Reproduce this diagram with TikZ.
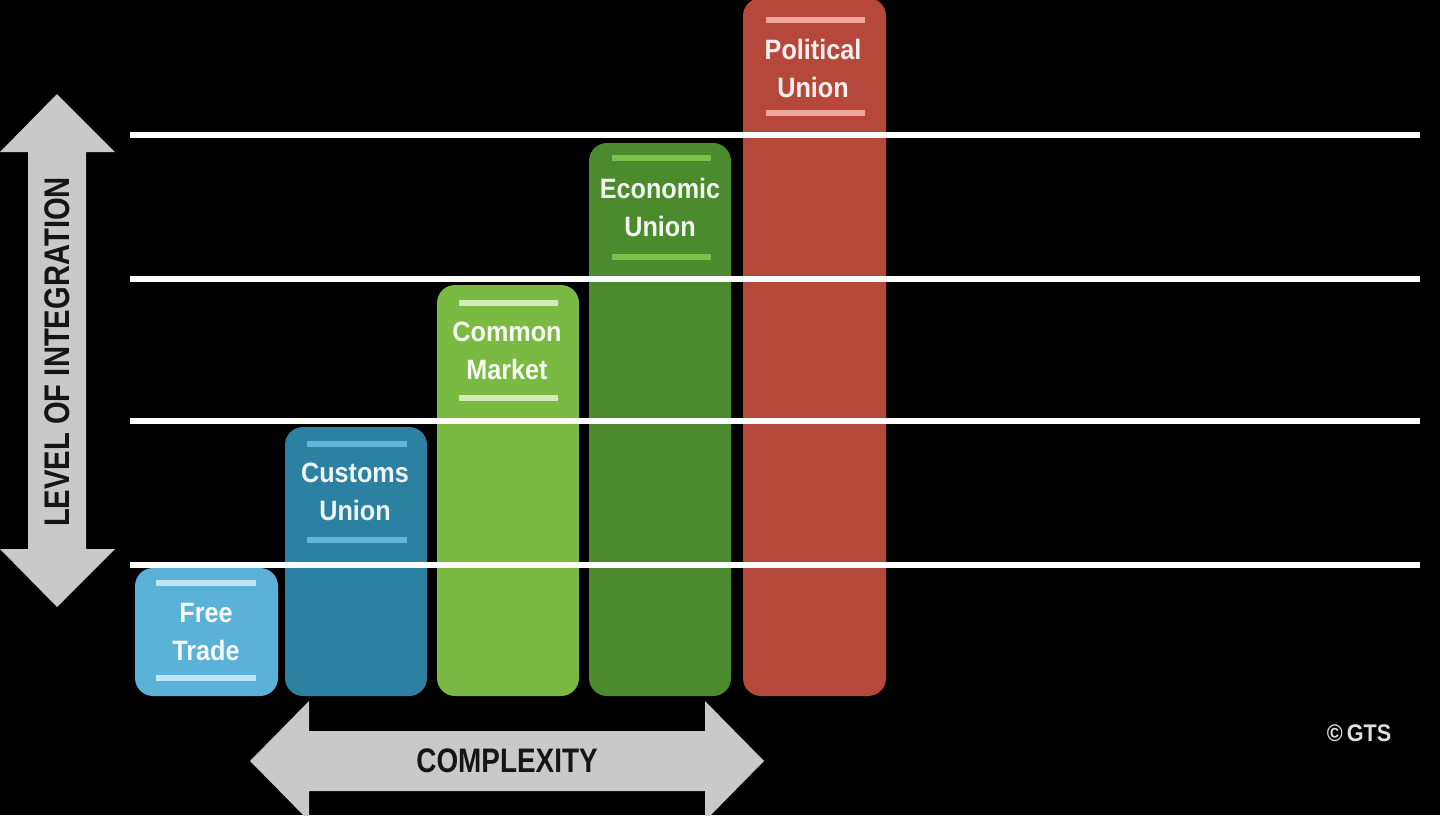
\documentclass[tikz,border=0pt]{standalone}
\usepackage{fontspec}
\setmainfont{Liberation Sans}
\newfontfamily\arrowfont[FakeStretch=0.82]{Liberation Sans}
\newfontfamily\barfont[FakeStretch=0.9]{Liberation Sans}
\definecolor{freec}{HTML}{5BB2D9}
\definecolor{freel}{HTML}{C2E5F3}
\definecolor{custc}{HTML}{2C80A2}
\definecolor{custl}{HTML}{62B6D8}
\definecolor{commc}{HTML}{7ABA42}
\definecolor{comml}{HTML}{D2EBB8}
\definecolor{econc}{HTML}{4B8A2D}
\definecolor{econl}{HTML}{7CC24A}
\definecolor{polc}{HTML}{B6483B}
\definecolor{poll}{HTML}{EFA79D}
\definecolor{arrowgray}{HTML}{C9C9C9}
\definecolor{arrowtext}{HTML}{151515}
\tikzset{
  bar/.style={rounded corners=9pt},
  deco/.style={line width=3pt},
  barlabel/.style={font=\barfont\bfseries\fontsize{14}{19}\selectfont, align=center, inner sep=0pt},
  grid/.style={white, line width=2.6pt},
  arrowlabel/.style={text=arrowtext, font=\arrowfont\bfseries\fontsize{17}{20}\selectfont, inner sep=0pt}
}
\begin{document}
\begin{tikzpicture}[x=0.5pt,y=-0.5pt]
\useasboundingbox (0,0) rectangle (1440,815);
\clip (0,0) rectangle (1440,815);
\fill[black] (0,0) rectangle (1440,815);
% bars
\fill[bar,freec] (135,568) rectangle (278,696);
\fill[bar,custc] (285,427) rectangle (427,696);
\fill[bar,commc] (437,285) rectangle (579,696);
\fill[bar,econc] (589,143) rectangle (731,696);
\fill[bar,polc] (743,-2) rectangle (886,696);
% decoration lines
\draw[deco,freel] (156,583) -- (256,583);
\draw[deco,freel] (156,678) -- (256,678);
\draw[deco,custl] (307,444) -- (407,444);
\draw[deco,custl] (307,540) -- (407,540);
\draw[deco,comml] (459,303) -- (558,303);
\draw[deco,comml] (459,398) -- (558,398);
\draw[deco,econl] (612,158) -- (711,158);
\draw[deco,econl] (612,257) -- (711,257);
\draw[deco,poll] (766,20) -- (865,20);
\draw[deco,poll] (766,113) -- (865,113);
% labels
\node[barlabel,text=white!95!freec] (ft) at (206,632) {Free\\Trade};
\node[barlabel,text=white!92!custc] (cu) at (355,492) {Customs\\Union};
\node[barlabel,text=white!94!commc] (cm) at (507,351) {Common\\Market};
\node[barlabel,text=white!92!econc] (eu) at (660,207) {Economic\\Union};
\node[barlabel,text=white!92!polc] (pu) at (813,68) {Political\\Union};
% horizontal white lines
\coordinate (l1a) at (130,135); \coordinate (l1b) at (1420,135);
\coordinate (l2a) at (130,279); \coordinate (l2b) at (1420,279);
\coordinate (l3a) at (130,421); \coordinate (l3b) at (1420,421);
\coordinate (l4a) at (130,565); \coordinate (l4b) at (1420,565);
\draw[grid] (l1a) -- (l1b);
\draw[grid] (l2a) -- (l2b);
\draw[grid] (l3a) -- (l3b);
\draw[grid] (l4a) -- (l4b);
% vertical arrow
\fill[arrowgray] (57,94) -- (115,152) -- (86,152) -- (86,549) -- (115,549) -- (57,607) -- (0,549) -- (28,549) -- (28,152) -- (0,152) -- cycle;
\node[arrowlabel,rotate=90,font=\arrowfont\bfseries\fontsize{17.8}{20}\selectfont] (loi) at (57,352) {LEVEL OF INTEGRATION};
% horizontal arrow
\fill[arrowgray] (250,761) -- (309,701) -- (309,731) -- (705,731) -- (705,701) -- (764,761) -- (705,821) -- (705,791) -- (309,791) -- (309,821) -- cycle;
\node[arrowlabel] (cx) at (507,761) {COMPLEXITY};
% copyright
\node[text=white!88!black, font=\barfont\bfseries\fontsize{12}{14}\selectfont, inner sep=0pt] (gts) at (1359,733) {©\,GTS};
\end{tikzpicture}
\end{document}
